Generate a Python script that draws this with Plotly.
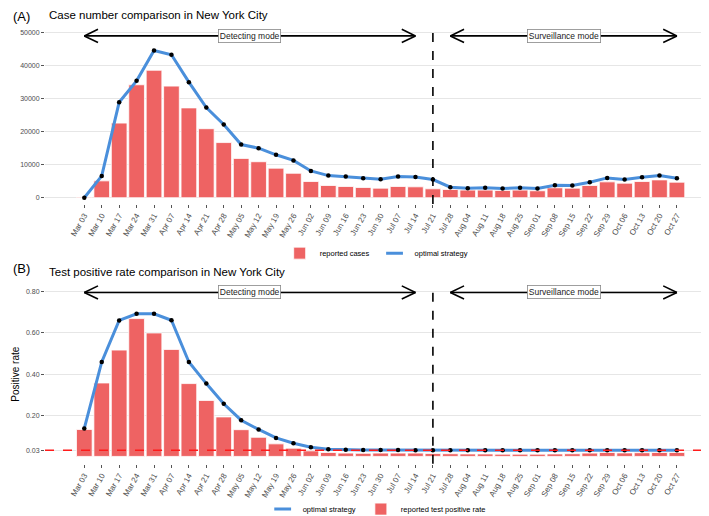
import plotly.graph_objects as go

dates = ["Mar 03", "Mar 10", "Mar 17", "Mar 24", "Mar 31", "Apr 07", "Apr 14", "Apr 21", "Apr 28",
         "May 05", "May 12", "May 19", "May 26", "Jun 02", "Jun 09", "Jun 16", "Jun 23", "Jun 30",
         "Jul 07", "Jul 14", "Jul 21", "Jul 28", "Aug 04", "Aug 11", "Aug 18", "Aug 25", "Sep 01",
         "Sep 08", "Sep 15", "Sep 22", "Sep 29", "Oct 06", "Oct 13", "Oct 20", "Oct 27"]

reported_cases = [200, 5100, 22600, 34200, 38600, 33800, 27200, 20900, 16700, 11900, 10900, 8950,
                  7400, 4900, 3700, 3400, 3100, 2900, 3400, 3300, 2700, 2500, 2300, 2300, 2200,
                  2300, 2100, 3000, 2900, 3700, 4800, 4400, 4900, 5400, 4700]
optimal_cases = [0, 6600, 28900, 35400, 44600, 43300, 35000, 27300, 22200, 16100, 15000, 13000,
                 11300, 8100, 6700, 6400, 5900, 5600, 6400, 6300, 5500, 3200, 2900, 3000, 2800,
                 3000, 2800, 3800, 3700, 4700, 6000, 5500, 6200, 6700, 5900]

reported_rate = [0.131, 0.357, 0.517, 0.670, 0.600, 0.520, 0.354, 0.272, 0.192, 0.130, 0.093,
                 0.061, 0.040, 0.027, 0.019, 0.016, 0.015, 0.016, 0.016, 0.016, 0.014, 0.013,
                 0.012, 0.012, 0.011, 0.011, 0.011, 0.012, 0.013, 0.016, 0.019, 0.017, 0.018,
                 0.019, 0.019]
optimal_rate = [0.136, 0.459, 0.661, 0.693, 0.693, 0.662, 0.459, 0.354, 0.256, 0.176, 0.131,
                0.090, 0.064, 0.045, 0.035, 0.032, 0.031, 0.031, 0.031, 0.030, 0.030, 0.030,
                0.030, 0.030, 0.030, 0.030, 0.030, 0.030, 0.030, 0.030, 0.030, 0.030, 0.030,
                0.030, 0.030]

rate_threshold = 0.03
switch_date = "Jul 21"
detect_span = (0, 19)
surveil_span = (21, 34)

a_ticks = [0, 10000, 20000, 30000, 40000, 50000]
a_ticktext = ["0", "10000", "20000", "30000", "40000", "50000"]
b_ticks = [0.03, 0.20, 0.40, 0.60, 0.80]
b_ticktext = ["0.03", "0.20", "0.40", "0.60", "0.80"]

BAR = "#EE6363"
LINE = "#4A8FDB"
FONT = "Liberation Sans, Arial, sans-serif"
GRID = "#E6E6E6"
TXT = "#4D4D4D"

fig = go.Figure()

# Panel A
fig.add_trace(go.Bar(x=dates, y=reported_cases, name="reported cases", marker_color=BAR,
                     marker_line=dict(color="white", width=0.8), width=0.9,
                     xaxis="x", yaxis="y", legend="legend"))
fig.add_trace(go.Scatter(x=[None], y=[None], name="optimal strategy", mode="markers",
                         marker=dict(symbol="line-ew", size=12, line=dict(color=LINE, width=3)),
                         xaxis="x", yaxis="y", legend="legend"))
fig.add_trace(go.Scatter(x=dates, y=optimal_cases, mode="lines+markers", showlegend=False,
                         line=dict(color=LINE, width=3), marker=dict(color="black", size=4.5),
                         xaxis="x", yaxis="y"))

# Panel B
fig.add_trace(go.Scatter(x=[None], y=[None], name="optimal strategy", mode="markers",
                         marker=dict(symbol="line-ew", size=12, line=dict(color=LINE, width=3)),
                         xaxis="x2", yaxis="y2", legend="legend2"))
fig.add_trace(go.Bar(x=dates, y=reported_rate, name="reported test positive rate", marker_color=BAR,
                     marker_line=dict(color="white", width=0.8), width=0.9,
                     xaxis="x2", yaxis="y2", legend="legend2"))
fig.add_trace(go.Scatter(x=dates, y=optimal_rate, mode="lines+markers", showlegend=False,
                         line=dict(color=LINE, width=3), marker=dict(color="black", size=4.5),
                         xaxis="x2", yaxis="y2"))

W, H = 709, 516
xdom = [37 / W, 1]
ydomA = [1 - 199 / H, 1 - 18 / H]
ydomB = [1 - 463 / H, 1 - 281 / H]
xrange = [-2.255, 36.3]

xcommon = dict(type="category", categoryorder="array", categoryarray=dates, range=xrange,
               domain=xdom, tickangle=-60, tickfont=dict(size=8, color=TXT, family=FONT),
               showgrid=False, zeroline=False, showline=False, ticks="outside", ticklen=3,
               tickcolor="#555555", tickwidth=0.8, tickmode="array", tickvals=dates, ticktext=dates)
ycommon = dict(showgrid=True, gridcolor=GRID, gridwidth=1, zeroline=False, showline=False,
               ticks="outside", ticklen=3, tickcolor="#555555", tickwidth=0.8,
               tickfont=dict(size=7, color=TXT, family=FONT), tickmode="array")

fig.update_layout(
    width=W, height=H, margin=dict(l=0, r=0, t=0, b=0),
    plot_bgcolor="white", paper_bgcolor="white", bargap=0.1,
    font=dict(family=FONT),
    xaxis=dict(**xcommon, anchor="y"),
    yaxis=dict(**ycommon, domain=ydomA, range=[-1878, 52087], tickvals=a_ticks,
               ticktext=a_ticktext, anchor="x"),
    xaxis2=dict(**xcommon, anchor="y2"),
    yaxis2=dict(**ycommon, domain=ydomB, range=[-0.036, 0.835], tickvals=b_ticks,
                ticktext=b_ticktext, anchor="x2",
                title=dict(text="Positive rate", font=dict(size=10, color="black", family=FONT),
                           standoff=4)),
    legend=dict(orientation="h", x=0.52, xanchor="center", y=1 - 249 / H, yanchor="middle",
                font=dict(size=7.5, color="black", family=FONT), bgcolor="rgba(0,0,0,0)",
                itemwidth=30),
    legend2=dict(orientation="h", x=0.52, xanchor="center", y=1 - 509 / H, yanchor="middle",
                 font=dict(size=7.5, color="black", family=FONT), bgcolor="rgba(0,0,0,0)",
                 itemwidth=30),
)

shapes = []
annotations = []

def mode_arrows(xref, yref, yval, head_h, label_font=8.5):
    head_w = 0.786
    for (a, b), label in [(detect_span, "Detecting mode"), (surveil_span, "Surveillance mode")]:
        shapes.append(dict(type="line", xref=xref, yref=yref, x0=a, x1=b, y0=yval, y1=yval,
                           line=dict(color="black", width=1.6)))
        for tip, d in [(a, 1), (b, -1)]:
            for s in (1, -1):
                shapes.append(dict(type="line", xref=xref, yref=yref, x0=tip, y0=yval,
                                   x1=tip + d * head_w, y1=yval + s * head_h,
                                   line=dict(color="black", width=1.6)))
        annotations.append(dict(x=(a + b) / 2, y=yval, xref=xref, yref=yref, text=label,
                                showarrow=False, font=dict(size=label_font, color="#222222", family=FONT),
                                bgcolor="white", bordercolor="#888888", borderwidth=0.8, borderpad=1))

for xr, yr in [("x", "y domain"), ("x2", "y2 domain")]:
    shapes.append(dict(type="line", xref=xr, yref=yr, x0=dates.index(switch_date),
                       x1=dates.index(switch_date), y0=0, y1=1,
                       line=dict(color="black", width=1.6, dash="dash")))

shapes.append(dict(type="line", xref="x2 domain", yref="y2", x0=0, x1=1, y0=rate_threshold,
                   y1=rate_threshold, line=dict(color="#FF1A1A", width=1.5, dash="dash")))

mode_arrows("x", "y", 49000, 2000)
mode_arrows("x2", "y2", 0.797, 0.032)

annotations += [
    dict(x=3 / W, y=1 - 8.5 / H, xref="paper", yref="paper", text="(A)", showarrow=False,
         xanchor="left", yanchor="middle", font=dict(size=13, color="black", family=FONT)),
    dict(x=39 / W, y=1 - 7 / H, xref="paper", yref="paper", text="Case number comparison in New York City",
         showarrow=False, xanchor="left", yanchor="middle", font=dict(size=11.5, color="black", family=FONT)),
    dict(x=3 / W, y=1 - 265 / H, xref="paper", yref="paper", text="(B)", showarrow=False,
         xanchor="left", yanchor="middle", font=dict(size=13, color="black", family=FONT)),
    dict(x=39 / W, y=1 - 268 / H, xref="paper", yref="paper", text="Test positive rate comparison in New York City",
         showarrow=False, xanchor="left", yanchor="middle", font=dict(size=11.5, color="black", family=FONT)),
]

fig.update_layout(shapes=shapes, annotations=annotations)
fig.write_html("out.html")
